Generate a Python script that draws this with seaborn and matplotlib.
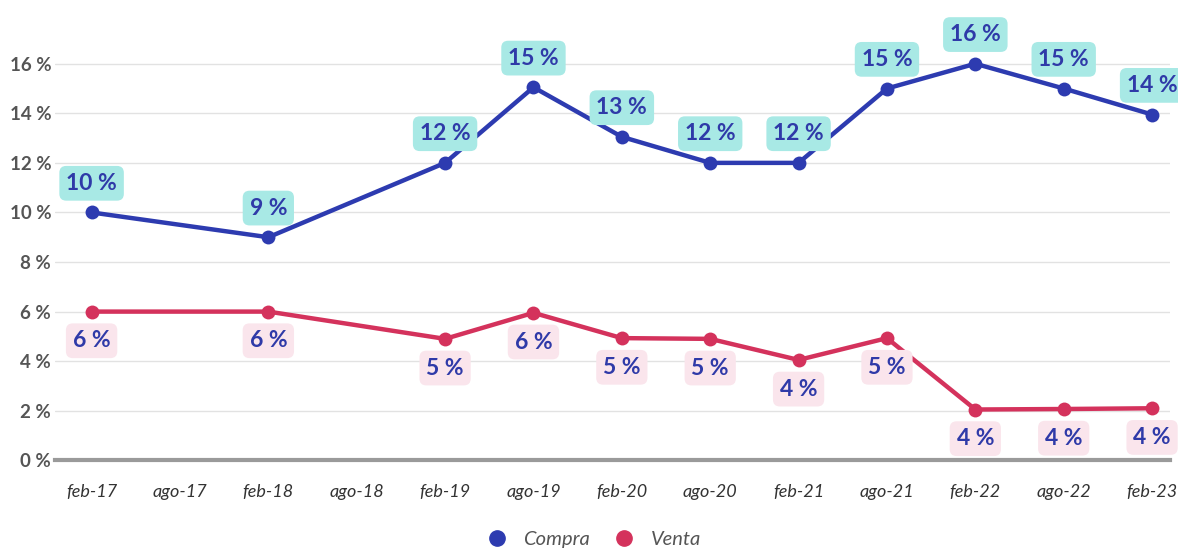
import numpy as np
import pandas as pd
import matplotlib
matplotlib.use("Agg")
import matplotlib.pyplot as plt
from matplotlib.lines import Line2D
import seaborn as sns

periods = ["feb-17", "ago-17", "feb-18", "ago-18", "feb-19", "ago-19", "feb-20",
           "ago-20", "feb-21", "ago-21", "feb-22", "ago-22", "feb-23"]
compra = [10, None, 9, None, 12, 15.05, 13.05, 12, 12, 15.0, 16, 15, 13.95]
venta = [6, None, 6, None, 4.9, 5.95, 4.93, 4.9, 4.05, 4.93, 2.05, 2.07, 2.1]
compra_labels = ["10 %", None, "9 %", None, "12 %", "15 %", "13 %", "12 %", "12 %", "15 %", "16 %", "15 %", "14 %"]
venta_labels = ["6 %", None, "6 %", None, "5 %", "6 %", "5 %", "5 %", "4 %", "5 %", "4 %", "4 %", "4 %"]
y_ticks = [0, 2, 4, 6, 8, 10, 12, 14, 16]

C_COMPRA = "#2d3bb0"
C_VENTA = "#d4325c"
TXT = "#2f3aa8"

rows = []
for i, p in enumerate(periods):
    if compra[i] is not None:
        rows.append({"pos": i, "serie": "Compra", "valor": compra[i], "label": compra_labels[i]})
    if venta[i] is not None:
        rows.append({"pos": i, "serie": "Venta", "valor": venta[i], "label": venta_labels[i]})
df = pd.DataFrame(rows)

sns.set_theme(style="white")
plt.rcParams["font.family"] = ["Lato", "DejaVu Sans"]

fig = plt.figure(figsize=(11.78, 5.48), dpi=100)
ax = fig.add_axes([0.047, 0.16, 0.946, 0.83])

sns.lineplot(data=df, x="pos", y="valor", hue="serie",
             palette={"Compra": C_COMPRA, "Venta": C_VENTA},
             marker="o", markersize=10, markeredgewidth=0, linewidth=3.2,
             legend=False, ax=ax, zorder=3)

for _, r in df.iterrows():
    up = r["serie"] == "Compra"
    ax.annotate(r["label"], (r["pos"], r["valor"]), xytext=(0, 21 if up else -21),
                textcoords="offset points", ha="center", va="center",
                fontsize=16.5, fontweight="bold", color=TXT,
                bbox=dict(boxstyle="round,pad=0.3,rounding_size=0.3",
                          fc="#a8e9e5" if up else "#fae5ec", ec="none"),
                zorder=4)

ax.set_xlim(-0.41, 12.2)
ax.set_ylim(0, 18.35)
ax.set_yticks(y_ticks)
ax.set_yticklabels([f"{v} %" for v in y_ticks], fontsize=13.5, fontweight="bold", color="#555555")
ax.set_xticks(range(len(periods)))
ax.set_xticklabels(periods, fontsize=13, style="italic", color="#333333")
ax.tick_params(axis="x", length=0, pad=17)
ax.tick_params(axis="y", length=0, pad=3)
ax.set_xlabel("")
ax.set_ylabel("")
ax.grid(axis="y", color="#e2e2e2", linewidth=1)
ax.grid(axis="x", visible=False)
for s in ["top", "right", "left"]:
    ax.spines[s].set_visible(False)
ax.spines["bottom"].set_color("#9a9a9a")
ax.spines["bottom"].set_linewidth(3)
ax.spines["bottom"].set_zorder(2)

handles = [Line2D([], [], marker="o", linestyle="none", color=C_COMPRA, markersize=11, label="Compra"),
           Line2D([], [], marker="o", linestyle="none", color=C_VENTA, markersize=11, label="Venta")]
leg = fig.legend(handles=handles, loc="center", bbox_to_anchor=(0.5, 0.015), ncol=2, frameon=False,
                 handletextpad=0.3, columnspacing=0.7, prop={"size": 14.5, "style": "italic"})
for t in leg.get_texts():
    t.set_color("#555555")

fig.savefig("out.png", dpi=100)
